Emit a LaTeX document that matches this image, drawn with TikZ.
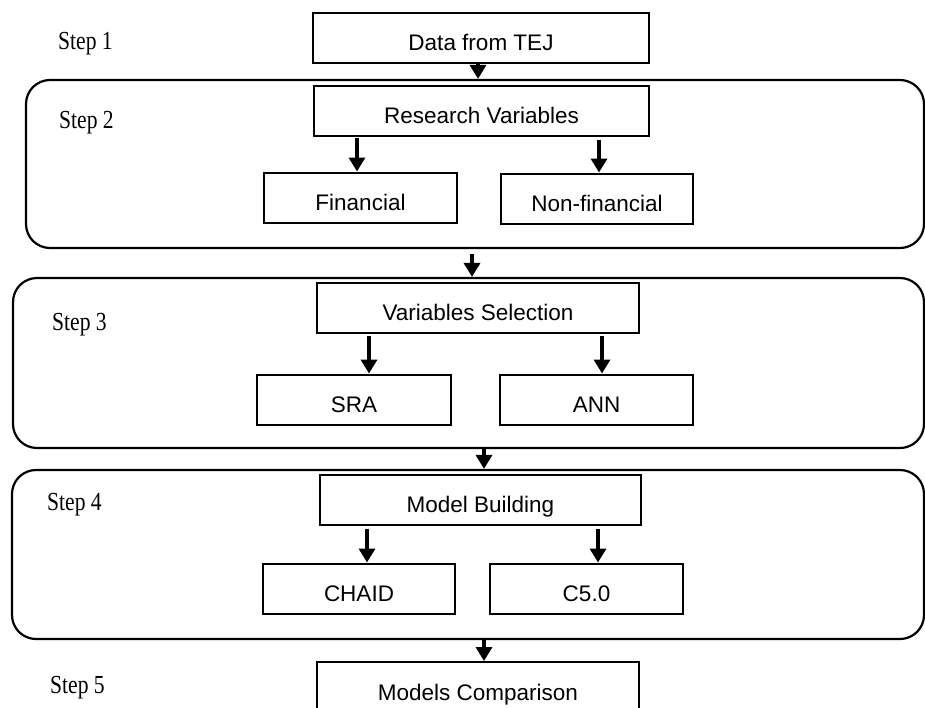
\documentclass[tikz,border=0pt]{standalone}
\usepackage{fontspec}
\setmainfont{Liberation Serif}
\newfontfamily\arialf{Liberation Sans}
\usetikzlibrary{arrows.meta}
\tikzset{
  stepbox/.style={draw, line width=2pt, inner xsep=0pt, inner ysep=0pt,
    text height=38pt, text depth=12pt, align=center,
    font=\arialf\fontsize{22.5}{26}\selectfont},
  groupbox/.style={draw, line width=2.2pt, rounded corners=24pt, inner sep=0pt},
  steplabel/.style={anchor=base west, inner sep=0pt,
    font=\fontsize{26}{30}\selectfont},
  arr/.style={line width=3.4pt, -{Triangle[width=16pt,length=14pt]}},
}
\newcommand{\steptxt}[1]{\scalebox{0.83}[1]{#1}}
\begin{document}
\begin{tikzpicture}[x=1pt,y=-1pt]
\useasboundingbox (0,0) rectangle (925,707);
% group boxes
\node[groupbox, minimum width=898pt, minimum height=168pt] (s2) at (475,164) {};
\node[groupbox, minimum width=911pt, minimum height=170pt] (s3) at (468.5,363) {};
\node[groupbox, minimum width=912pt, minimum height=169pt] (s4) at (468,554.5) {};
% step labels
\node[steplabel] (l1) at (58,49) {\steptxt{Step 1}};
\node[steplabel] (l2) at (59,128) {\steptxt{Step 2}};
\node[steplabel] (l3) at (52,330) {\steptxt{Step 3}};
\node[steplabel] (l4) at (47,510) {\steptxt{Step 4}};
\node[steplabel] (l5) at (50,693) {\steptxt{Step 5}};
% boxes
\node[stepbox, minimum width=336pt] (tej) at (481,37.5) {Data from TEJ};
\node[stepbox, minimum width=335pt] (rv) at (481.5,110.5) {Research Variables};
\node[stepbox, minimum width=193pt] (fin) at (360.5,197.5) {Financial};
\node[stepbox, minimum width=192pt] (nf) at (597,198.5) {Non-financial};
\node[stepbox, minimum width=322pt] (vs) at (478,307.5) {Variables Selection};
\node[stepbox, minimum width=194pt] (sra) at (354,399.5) {SRA};
\node[stepbox, minimum width=193pt] (ann) at (596.5,399.5) {ANN};
\node[stepbox, minimum width=321pt] (mb) at (480.5,499.5) {Model Building};
\node[stepbox, minimum width=192pt] (chaid) at (359,588.5) {CHAID};
\node[stepbox, minimum width=193pt] (c5) at (586.5,588.5) {C5.0};
\node[stepbox, minimum width=322pt] (mc) at (478,687) {Models Comparison};
% arrow x positions
\coordinate (xa) at (478,0);
\coordinate (xb) at (357,0);
\coordinate (xc) at (599,0);
\coordinate (xd) at (472,0);
\coordinate (xe) at (369,0);
\coordinate (xf) at (602,0);
\coordinate (xg) at (484,0);
\coordinate (xh) at (367,0);
\coordinate (xi) at (598,0);
% arrows
\draw[arr] (tej.south -| xa) -- (s2.north -| xa);
\draw[arr, shorten <=1pt] (rv.south -| xb) -- (fin.north -| xb);
\draw[arr, shorten <=3pt] (rv.south -| xc) -- (nf.north -| xc);
\draw[arr, shorten <=5pt] (s2.south -| xd) -- (s3.north -| xd);
\draw[arr, shorten <=2pt] (vs.south -| xe) -- (sra.north -| xe);
\draw[arr, shorten <=2pt] (vs.south -| xf) -- (ann.north -| xf);
\draw[arr] (s3.south -| xg) -- (s4.north -| xg);
\draw[arr, shorten <=3pt] (mb.south -| xh) -- (chaid.north -| xh);
\draw[arr, shorten <=3pt] (mb.south -| xi) -- (c5.north -| xi);
\draw[arr] (s4.south -| xg) -- (mc.north -| xg);
\end{tikzpicture}
\end{document}
